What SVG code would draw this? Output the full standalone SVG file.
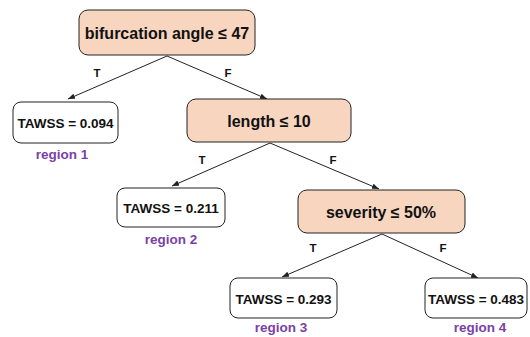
<svg xmlns="http://www.w3.org/2000/svg" width="530" height="337" viewBox="0 0 530 337">
<style>
.dec{fill:#f7d5bf;stroke:#222;stroke-width:1}
.leaf{fill:#fff;stroke:#222;stroke-width:1}
.t{font-family:"Liberation Sans",Arial,sans-serif;font-weight:bold;fill:#111;text-anchor:middle}
.big{font-size:16px}
.mid{font-size:13.5px}
.lab{font-size:11.5px}
.reg{font-family:"Liberation Sans",Arial,sans-serif;font-weight:bold;font-size:13.5px;fill:#7b40a8;text-anchor:middle}
.edge{stroke:#222;stroke-width:1;fill:none;marker-end:url(#ah)}
</style>
<defs>
<marker id="ah" viewBox="0 0 10 10" refX="10" refY="5" markerWidth="7" markerHeight="7" markerUnits="userSpaceOnUse" orient="auto">
<path d="M0,1 L10,5 L0,9 z" fill="#222"/>
</marker>
</defs>
<g id="connectors">
<line class="edge" x1="167" y1="56" x2="68" y2="99"/>
<line class="edge" x1="167" y1="56" x2="267" y2="99"/>
<line class="edge" x1="270" y1="143" x2="172" y2="186"/>
<line class="edge" x1="270" y1="143" x2="379" y2="189"/>
<line class="edge" x1="382" y1="234" x2="282" y2="277"/>
<line class="edge" x1="382" y1="234" x2="478" y2="278"/>
<text class="t lab" x="97" y="77">T</text>
<text class="t lab" x="228" y="77">F</text>
<text class="t lab" x="202" y="164">T</text>
<text class="t lab" x="333" y="164">F</text>
<text class="t lab" x="313" y="252">T</text>
<text class="t lab" x="443" y="252">F</text>
</g>
<g id="root">
<rect class="dec" x="79" y="10" width="176" height="45" rx="9"/>
<text class="t big" x="167" y="38.5">bifurcation angle ≤ 47</text>
</g>
<g id="leaf1">
<rect class="leaf" x="13" y="102" width="105" height="41" rx="8"/>
<text class="t mid" x="65.5" y="127.5">TAWSS = 0.094</text>
<text class="reg" x="62" y="159">region 1</text>
</g>
<g id="length">
<rect class="dec" x="187" y="99" width="164" height="43" rx="9"/>
<text class="t big" x="269" y="126.5">length ≤ 10</text>
</g>
<g id="leaf2">
<rect class="leaf" x="117" y="188" width="108" height="39" rx="8"/>
<text class="t mid" x="171" y="212.5">TAWSS = 0.211</text>
<text class="reg" x="171" y="244">region 2</text>
</g>
<g id="severity">
<rect class="dec" x="298" y="190" width="167" height="43" rx="9"/>
<text class="t big" x="381" y="217.5">severity ≤ 50%</text>
</g>
<g id="leaf3">
<rect class="leaf" x="230" y="278" width="107" height="40" rx="8"/>
<text class="t mid" x="283.5" y="303.5">TAWSS = 0.293</text>
<text class="reg" x="281" y="332">region 3</text>
</g>
<g id="leaf4">
<rect class="leaf" x="425" y="278" width="102" height="40" rx="8"/>
<text class="t mid" x="476" y="303.5">TAWSS = 0.483</text>
<text class="reg" x="480" y="332">region 4</text>
</g>
</svg>
